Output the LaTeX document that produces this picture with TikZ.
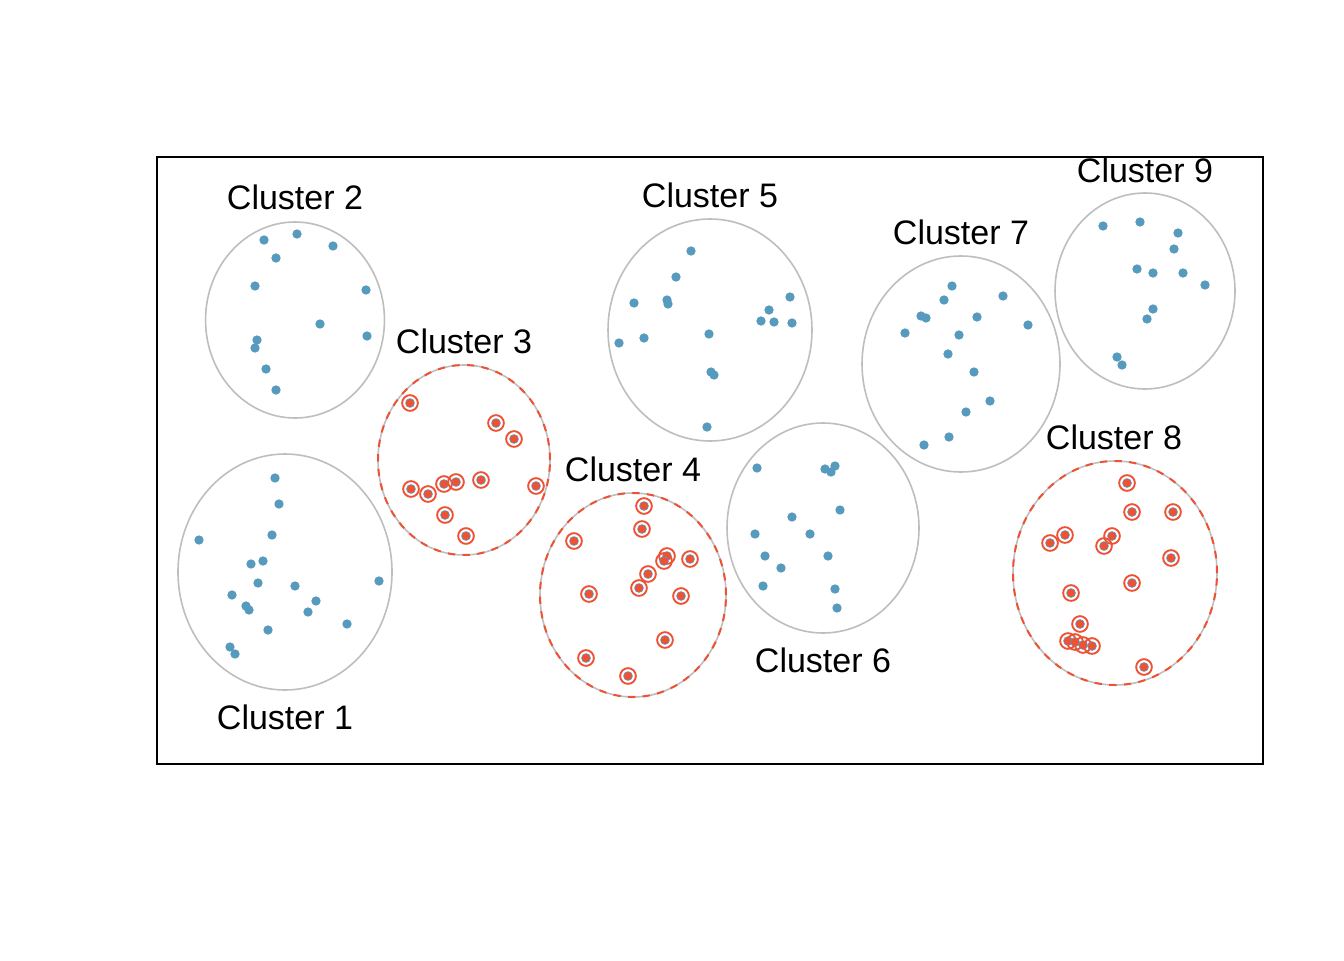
\documentclass[tikz,border=0pt]{standalone}
\usepackage{fontspec}
\setmainfont{Liberation Sans}
\definecolor{oiblue}{HTML}{569BBD}
\definecolor{oired}{HTML}{F05133}
\definecolor{cgray}{HTML}{BEBEBE}
\begin{document}
\begin{tikzpicture}[x=0.75pt,y=-0.75pt,
  lab/.style={font=\fontsize{25.5pt}{28pt}\selectfont, inner sep=0pt},
  clu/.style={draw=cgray, line width=1.2pt},
  sampled/.style={draw=oired, line width=1.5pt, dash pattern=on 5.5pt off 5.5pt},
  frame/.style={draw=black, line width=1.1pt}]
\useasboundingbox (0,0) rectangle (1344,960);
\fill[white] (0,0) rectangle (1344,960);
\draw[frame] (157,157) rectangle (1263,764);
% cluster outlines
\draw[clu] (285,572) ellipse [x radius=80.25pt, y radius=88.5pt];
\draw[clu] (295,320) ellipse [x radius=67.1pt, y radius=73.5pt];
\draw[clu] (464,460) ellipse [x radius=64.5pt, y radius=71.25pt];
\draw[clu] (633,595) ellipse [x radius=69.75pt, y radius=76.5pt];
\draw[clu] (710,330) ellipse [x radius=76.5pt, y radius=83.25pt];
\draw[clu] (823,528) ellipse [x radius=72pt, y radius=78.75pt];
\draw[clu] (961,364) ellipse [x radius=74.25pt, y radius=81pt];
\draw[clu] (1115,573) ellipse [x radius=76.5pt, y radius=84pt];
\draw[clu] (1145,291) ellipse [x radius=67.5pt, y radius=73.5pt];
\draw[sampled] (464,460) ellipse [x radius=64.5pt, y radius=71.25pt];
\draw[sampled] (633,595) ellipse [x radius=69.75pt, y radius=76.5pt];
\draw[sampled] (1115,573) ellipse [x radius=76.5pt, y radius=84pt];
% unsampled points
\foreach \p in {
 (275,478),(279,504),(199,540),(272,535),(263,561),(251,564),(258,583),(295,586),(379,581),
 (232,595),(246,606),(249,610),(316,601),(308,612),(347,624),(268,630),(230,647),(235,654),
 (264,240),(297,234),(333,246),(276,258),(255,286),(366,290),(320,324),(367,336),(257,340),
 (255,348),(266,369),(276,390),
 (691,251),(676,277),(634,303),(667,300),(668,304),(790,297),(769,310),(761,321),(774,322),
 (792,323),(619,343),(644,338),(709,334),(711,372),(714,375),(707,427),
 (757,468),(825,469),(835,466),(831,472),(840,510),(792,517),(755,534),(810,534),(765,556),
 (828,556),(781,568),(763,586),(835,589),(837,608),
 (952,286),(1003,296),(944,300),(921,316),(926,318),(977,317),(1028,325),(905,333),(959,335),
 (948,354),(974,372),(990,401),(966,412),(949,437),(924,445),
 (1103,226),(1140,222),(1178,233),(1174,249),(1137,269),(1153,273),(1183,273),(1205,285),
 (1153,309),(1147,319),(1117,357),(1122,365)}
 \fill[oiblue] \p circle[radius=3.5pt];
% sampled points
\foreach \p in {
 (410,403),(496,423),(514,439),(411,489),(428,494),(444,484),(456,482),(481,480),(536,486),
 (445,515),(466,536),
 (644,506),(642,529),(574,541),(667,556),(664,561),(690,559),(648,574),(639,588),(589,594),
 (681,596),(665,640),(586,658),(628,676),
 (1127,483),(1132,512),(1173,512),(1065,535),(1050,543),(1112,536),(1104,546),(1171,558),
 (1132,583),(1071,593),(1080,624),(1068,641),(1075,642),(1083,645),(1092,646),(1144,667)}
 {\fill[oiblue] \p circle[radius=3.6pt];
  \fill[oired] \p circle[radius=3.0pt];
  \draw[oired, line width=1.4pt] \p circle[radius=5.9pt];}
% labels
\node[lab] (c1) at (285,717) {Cluster 1};
\node[lab] (c2) at (295,197) {Cluster 2};
\node[lab] (c3) at (464,341) {Cluster 3};
\node[lab] (c4) at (633,469) {Cluster 4};
\node[lab] (c5) at (710,195) {Cluster 5};
\node[lab] (c6) at (823,660) {Cluster 6};
\node[lab] (c7) at (961,232) {Cluster 7};
\node[lab] (c8) at (1114,437) {Cluster 8};
\node[lab] (c9) at (1145,170) {Cluster 9};
\end{tikzpicture}
\end{document}
